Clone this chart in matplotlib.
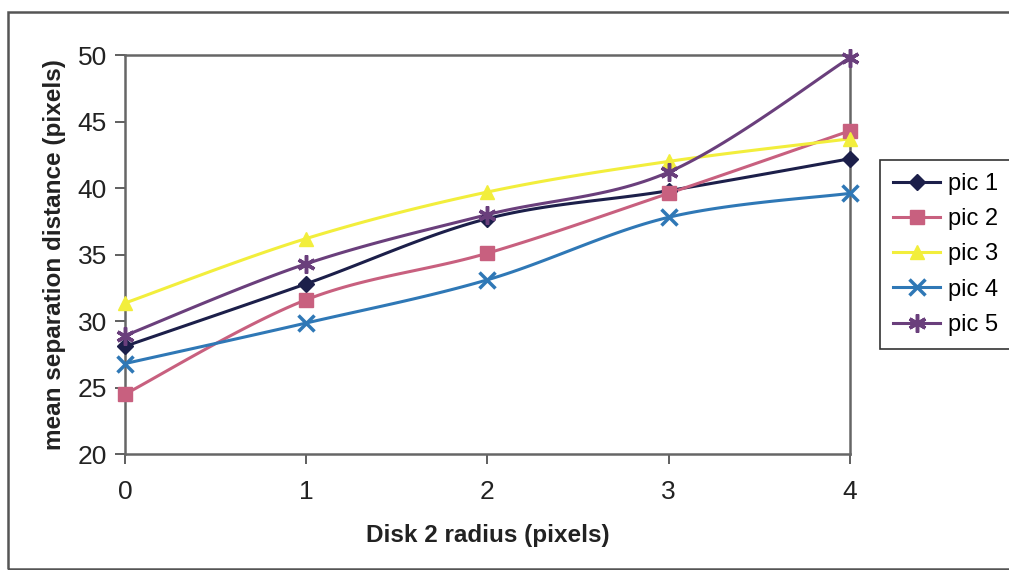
import numpy as np
import matplotlib
matplotlib.use("Agg")
from matplotlib import pyplot as plt
from matplotlib.patches import Rectangle

plt.rcParams['font.family'] = ['Liberation Sans', 'DejaVu Sans']

# data
radius = [0, 1, 2, 3, 4]
pic1 = [28.1, 32.8, 37.7, 39.8, 42.2]
pic2 = [24.5, 31.6, 35.1, 39.6, 44.3]
pic3 = [31.35, 36.2, 39.7, 42.0, 43.7]
pic4 = [26.8, 29.85, 33.1, 37.8, 39.6]
pic5 = [28.9, 34.3, 38.0, 41.2, 49.8]

names = ['pic 1', 'pic 2', 'pic 3', 'pic 4', 'pic 5']
colors = ['#1c1f4a', '#c8607f', '#f2ee3c', '#2f78b6', '#6a3f7c']
markers = ['D', 's', '^', 'x', (6, 2, 0)]
msizes = [8, 10, 10, 11, 13]


def smooth(x, y, n=30):
    # excel style smoothed line: bezier through the points
    x = np.asarray(x, float)
    y = np.asarray(y, float)
    px, py = [], []
    for i in range(len(x) - 1):
        x0, y0 = (x[i - 1], y[i - 1]) if i > 0 else (x[i], y[i])
        x3, y3 = (x[i + 2], y[i + 2]) if i + 2 < len(x) else (x[i + 1], y[i + 1])
        c1 = (x[i] + (x[i + 1] - x0) / 6, y[i] + (y[i + 1] - y0) / 6)
        c2 = (x[i + 1] - (x3 - x[i]) / 6, y[i + 1] - (y3 - y[i]) / 6)
        t = np.linspace(0, 1, n)
        a = (1 - t) ** 3
        b = 3 * (1 - t) ** 2 * t
        c = 3 * (1 - t) * t ** 2
        d = t ** 3
        px.extend(a * x[i] + b * c1[0] + c * c2[0] + d * x[i + 1])
        py.extend(a * y[i] + b * c1[1] + c * c2[1] + d * y[i + 1])
    return px, py


fig = plt.figure(figsize=(10.09, 5.70), dpi=100)
ax = fig.add_axes([0.1239, 0.2035, 0.7185, 0.70])

series = [pic1, pic2, pic3, pic4, pic5]
handles = []
for s, name, c, m, ms in zip(series, names, colors, markers, msizes):
    sx, sy = smooth(radius, s)
    mew = 2.5 if m in ('x', (6, 2, 0)) else 1
    ax.plot(sx, sy, color=c, linewidth=2.2, zorder=3, clip_on=False)
    ax.plot(radius, s, linestyle='none', marker=m, color=c, markersize=ms,
            markeredgewidth=mew, zorder=4, clip_on=False)
    h, = ax.plot([], [], color=c, linewidth=2.2, marker=m, markersize=ms,
                 markeredgewidth=mew)
    handles.append(h)

ax.set_xlim(0, 4)
ax.set_ylim(20, 50)
ax.set_xticks(radius)
ax.set_yticks(range(20, 51, 5))
ax.tick_params(axis='both', labelsize=19, color='#444444', labelcolor='#222222',
               length=7, width=1.2, direction='out')
ax.tick_params(axis='x', pad=12)
ax.tick_params(axis='y', pad=6)
for sp in ax.spines.values():
    sp.set_color('#666666')
    sp.set_linewidth(1.8)

ax.set_xlabel('Disk 2 radius (pixels)', fontsize=17.5, fontweight='bold',
              color='#222222', labelpad=14)
ax.set_ylabel('mean separation distance (pixels)', fontsize=17.5,
              fontweight='bold', color='#222222', labelpad=8)

leg = fig.legend(handles, names, loc='upper left',
                 bbox_to_anchor=(880 / 1009, 1 - 160 / 570), borderaxespad=0,
                 fontsize=17, frameon=True, fancybox=False, framealpha=1,
                 edgecolor='#333333', handlelength=2.0,
                 labelspacing=0.56, borderpad=0.55, handletextpad=0.33)
leg.get_frame().set_linewidth(1.2)

# outer chart border
fig.patches.append(Rectangle((8 / 1009, 0.002), 1.2, 0.977,
                             transform=fig.transFigure, fill=False,
                             edgecolor='#555555', linewidth=1.8))

fig.savefig('out.png', dpi=100)
